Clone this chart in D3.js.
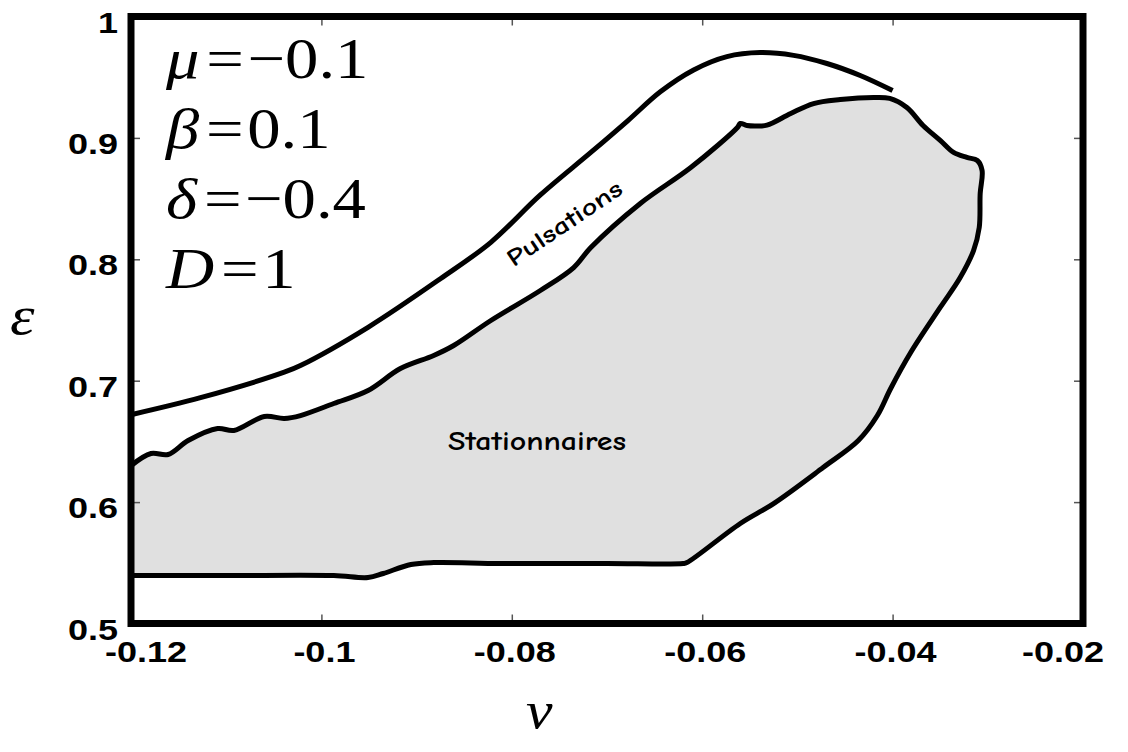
<!DOCTYPE html>
<html>
<head>
<meta charset="utf-8">
<script src="https://cdn.jsdelivr.net/npm/d3@7"></script>
<style>
  body { margin: 0; background: #fff; }
</style>
</head>
<body>
<div id="canvas"></div>
<script>
// set the dimensions of the page and the plot box
var width = 1128,
  height = 752;
var box = { left: 131, right: 1083, top: 16.5, bottom: 623.5 };

var sansFont = "'Liberation Sans', Arimo, Arial, Helvetica, sans-serif";
var serifFont = "'Liberation Serif', Tinos, 'Times New Roman', Times, 'DejaVu Serif', serif";
var handFont = "'Comic Sans MS', 'Comic Neue', 'DejaVu Sans', sans-serif";

// axis ticks
var xTicks = [-0.12, -0.1, -0.08, -0.06, -0.04, -0.02];
var xTickLabels = ["-0.12", "-0.1", "-0.08", "-0.06", "-0.04", "-0.02"];
var yTicks = [0.5, 0.6, 0.7, 0.8, 0.9, 1];
var yTickLabels = ["0.5", "0.6", "0.7", "0.8", "0.9", "1"];

// upper curve: onset of pulsations (nu, epsilon)
var pulseNu = [-0.12, -0.1127, -0.1039, -0.1022, -0.0951, -0.0875, -0.0822, -0.077, -0.0717,
  -0.0678, -0.0644, -0.0609, -0.0574, -0.0539, -0.0504, -0.0469, -0.0434, -0.04];
var pulseEps = [0.672, 0.686, 0.707, 0.7125, 0.744, 0.784, 0.814, 0.853, 0.888,
  0.9143, 0.938, 0.956, 0.967, 0.9703, 0.968, 0.9613, 0.9514, 0.939];

// boundary of the stationary region, from the left axis, round the tip, back along the bottom
var statNu = [-0.12, -0.1179, -0.1161, -0.114, -0.1109, -0.1092, -0.106, -0.1039, -0.1022,
  -0.0987, -0.0951, -0.0917, -0.0882, -0.0861, -0.0822, -0.077, -0.0735, -0.0717, -0.0665,
  -0.0612, -0.0563, -0.056, -0.0553, -0.0542, -0.0532, -0.0507, -0.0483, -0.0455, -0.042,
  -0.0403, -0.0385, -0.0368, -0.035, -0.0336, -0.0322, -0.0311, -0.0306, -0.0308, -0.0309,
  -0.0315, -0.0329, -0.035, -0.0381, -0.0402, -0.0416, -0.0436, -0.0473, -0.0525, -0.056,
  -0.0616, -0.062, -0.07, -0.0812, -0.0882, -0.0906, -0.0935, -0.0951, -0.0987, -0.11, -0.12];
var statEps = [0.63, 0.64, 0.6392, 0.6507, 0.6606, 0.659, 0.6705, 0.6689, 0.6713,
  0.6812, 0.6919, 0.71, 0.7208, 0.729, 0.7496, 0.7743, 0.7932, 0.8097, 0.846,
  0.8756, 0.9086, 0.9119, 0.9102, 0.9098, 0.9105, 0.9201, 0.9283, 0.9316, 0.9333,
  0.9325, 0.925, 0.9102, 0.8979, 0.888, 0.8839, 0.8814, 0.8731, 0.8542, 0.8262,
  0.8072, 0.785, 0.7603, 0.7232, 0.6936, 0.6713, 0.6507, 0.6285, 0.5988, 0.5824,
  0.5502, 0.5494, 0.5494, 0.5494, 0.5502, 0.5486, 0.5412, 0.5379, 0.5395, 0.5395, 0.5395];

// parameter box
var paramSyms = ["\u03bc", "\u03b2", "\u03b4", "D"];
var paramVals = ["\u22120.1", "0.1", "\u22120.4", "1"];

var svg = d3
  .select("#canvas")
  .append("svg")
  .attr("width", width)
  .attr("height", height);

var xScale = d3.scaleLinear().domain([-0.12, -0.02]).range([box.left, box.right]);
var yScale = d3.scaleLinear().domain([0.5, 1]).range([box.bottom, box.top]);

var pulse = pulseNu.map((d, i) => [d, pulseEps[i]]);
var stat = statNu.map((d, i) => [d, statEps[i]]);

var line = d3
  .line()
  .x((d) => xScale(d[0]))
  .y((d) => yScale(d[1]))
  .curve(d3.curveCatmullRom.alpha(0.5));

// grey stationary region, filled, then its outline
svg.append("path").attr("d", line(stat) + "Z").attr("fill", "#e0e0e0").attr("stroke", "none");
svg
  .append("path")
  .attr("d", line(stat))
  .attr("fill", "none")
  .attr("stroke", "#000")
  .attr("stroke-width", 5)
  .attr("stroke-linejoin", "round");

svg
  .append("path")
  .attr("d", line(pulse))
  .attr("fill", "none")
  .attr("stroke", "#000")
  .attr("stroke-width", 5);

// inward ticks on all four sides
var tickLen = 9;
var xTickVals = xTicks.slice(1, -1);
var yTickVals = yTicks.slice(1, -1);
svg
  .append("g")
  .attr("transform", "translate(0," + box.bottom + ")")
  .call(d3.axisBottom(xScale).tickValues(xTickVals).tickSize(-tickLen).tickFormat(""));
svg
  .append("g")
  .attr("transform", "translate(0," + box.top + ")")
  .call(d3.axisTop(xScale).tickValues(xTickVals).tickSize(-tickLen).tickFormat(""));
svg
  .append("g")
  .attr("transform", "translate(" + box.left + ",0)")
  .call(d3.axisLeft(yScale).tickValues(yTickVals).tickSize(-tickLen).tickFormat(""));
svg
  .append("g")
  .attr("transform", "translate(" + box.right + ",0)")
  .call(d3.axisRight(yScale).tickValues(yTickVals).tickSize(-tickLen).tickFormat(""));
svg.selectAll(".domain").remove();
svg.selectAll(".tick line").attr("stroke", "#555").attr("stroke-width", 1.5);

// thick frame
svg
  .append("rect")
  .attr("x", box.left)
  .attr("y", box.top)
  .attr("width", box.right - box.left)
  .attr("height", box.bottom - box.top)
  .attr("fill", "none")
  .attr("stroke", "#000")
  .attr("stroke-width", 7);

// tick labels (the figure is stretched sideways)
svg
  .selectAll(".xlab")
  .data(xTicks)
  .enter()
  .append("text")
  .attr("font-family", sansFont)
  .attr("font-weight", "bold")
  .attr("font-size", 30)
  .attr("text-anchor", "middle")
  .attr("transform", (d, i) => {
    var shift = i == 0 ? 15 : i == xTicks.length - 1 ? -20 : 3;
    return "translate(" + (xScale(d) + shift) + ",662) scale(1.2,1)";
  })
  .text((d, i) => xTickLabels[i]);

svg
  .selectAll(".ylab")
  .data(yTicks)
  .enter()
  .append("text")
  .attr("font-family", sansFont)
  .attr("font-weight", "bold")
  .attr("font-size", 30)
  .attr("text-anchor", "end")
  .attr("transform", (d) => "translate(118," + (yScale(d) + 16) + ") scale(1.2,1)")
  .text((d, i) => yTickLabels[i]);

// axis titles
svg
  .append("text")
  .attr("font-family", serifFont)
  .attr("font-style", "italic")
  .attr("font-size", 54)
  .attr("transform", "translate(10,334) scale(1.15,1)")
  .text("\u03b5");
svg
  .append("text")
  .attr("font-family", serifFont)
  .attr("font-style", "italic")
  .attr("font-size", 52)
  .attr("transform", "translate(526,728) scale(1.15,1)")
  .text("\u03bd");

// parameter values
var rows = svg
  .selectAll(".param")
  .data(paramSyms)
  .enter()
  .append("text")
  .attr("font-family", serifFont)
  .attr("font-size", 58)
  .attr("transform", (d, i) => "translate(166," + (78 + i * 70) + ") scale(1.15,1)");
rows.append("tspan").attr("font-style", "italic").text((d) => d);
rows.append("tspan").attr("dx", 6).text("=");
rows.append("tspan").attr("dx", 3).text((d, i) => paramVals[i]);

// region names
svg
  .append("text")
  .attr("font-family", handFont)
  .attr("font-weight", "bold")
  .attr("font-size", 26)
  .attr("text-anchor", "middle")
  .attr("transform", "translate(537,450)")
  .attr("textLength", 178)
  .attr("lengthAdjust", "spacingAndGlyphs")
  .text("Stationnaires");
svg
  .append("text")
  .attr("font-family", handFont)
  .attr("font-weight", "bold")
  .attr("font-size", 24)
  .attr("text-anchor", "middle")
  .attr("transform", "translate(569,230) rotate(-34)")
  .attr("textLength", 134)
  .attr("lengthAdjust", "spacingAndGlyphs")
  .text("Pulsations");
</script>
</body>
</html>
